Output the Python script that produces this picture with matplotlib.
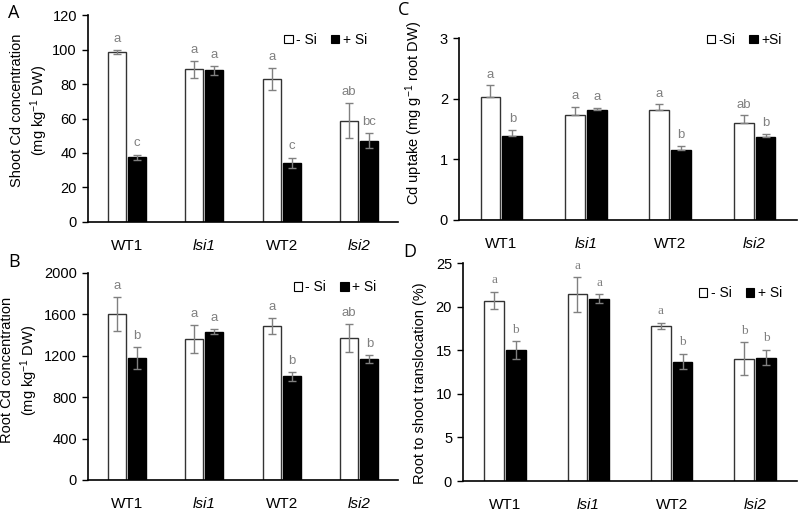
import matplotlib

matplotlib.use("Agg")
import matplotlib.pyplot as plt
import numpy as np
from matplotlib.patches import Patch

plt.rcParams["font.family"] = ["Liberation Sans", "DejaVu Sans"]

genotypes = ["WT1", "lsi1", "WT2", "lsi2"]
italic_labels = [False, True, False, True]

# Panel A: shoot Cd concentration (mg kg-1 DW)
shoot_minus = [98.5, 88.5, 83.0, 58.8]
shoot_minus_err = [1.2, 5.0, 6.3, 10.0]
shoot_plus = [37.6, 88.0, 34.3, 47.2]
shoot_plus_err = [1.5, 2.6, 3.0, 4.5]
shoot_letters_minus = ["a", "a", "a", "ab"]
shoot_letters_plus = ["c", "a", "c", "bc"]

# Panel B: root Cd concentration (mg kg-1 DW)
root_minus = [1603, 1361, 1487, 1370]
root_minus_err = [161, 134, 75, 135]
root_plus = [1177, 1433, 1000, 1168]
root_plus_err = [103, 26, 39, 39]
root_letters_minus = ["a", "a", "a", "ab"]
root_letters_plus = ["b", "a", "b", "b"]

# Panel C: Cd uptake (mg g-1 root DW)
uptake_minus = [2.03, 1.73, 1.82, 1.60]
uptake_minus_err = [0.19, 0.14, 0.09, 0.13]
uptake_plus = [1.39, 1.81, 1.16, 1.36]
uptake_plus_err = [0.10, 0.04, 0.06, 0.06]
uptake_letters_minus = ["a", "a", "a", "ab"]
uptake_letters_plus = ["b", "a", "b", "b"]

# Panel D: root to shoot translocation (%)
transl_minus = [20.7, 21.4, 17.8, 14.0]
transl_minus_err = [1.0, 2.0, 0.35, 1.9]
transl_plus = [15.0, 20.9, 13.7, 14.15]
transl_plus_err = [1.0, 0.5, 0.9, 0.9]
transl_letters_minus = ["a", "a", "a", "b"]
transl_letters_plus = ["b", "a", "b", "b"]

GREY = "#808080"
WIDTH = 0.235
OFFSET = 0.13
SUP = r"$\mathregular{^{-1}}$"


def draw_panel(ax, minus, minus_err, plus, plus_err, let_minus, let_plus,
               ymax, ystep, ylabel, label_xy, legend_labels, legend_xy,
               letter_font=None, up_only=False):
    x = np.arange(len(genotypes))
    xm = x - OFFSET
    xp = x + OFFSET
    ax.bar(xm, minus, WIDTH, color="white", edgecolor="#333333", linewidth=1.0, zorder=2)
    ax.bar(xp, plus, WIDTH, color="black", edgecolor="black", linewidth=1.0, zorder=2)
    for xs, vals, errs in ((xm, minus, minus_err), (xp, plus, plus_err)):
        yerr = [np.zeros(len(errs)), errs] if up_only else errs
        ax.errorbar(xs, vals, yerr=yerr, fmt="none", ecolor=GREY,
                    elinewidth=1.0, capsize=3, capthick=1.0, zorder=3)
    pad = ymax * 0.025
    fkw = {"family": letter_font} if letter_font else {}
    for xs, vals, errs, lets in ((xm, minus, minus_err, let_minus),
                                 (xp, plus, plus_err, let_plus)):
        for xi, v, e, t in zip(xs, vals, errs, lets):
            ax.text(xi, v + e + pad, t, ha="center", va="bottom",
                    fontsize=9.5, color=GREY, **fkw)

    ax.set_xlim(-0.5, len(genotypes) - 0.5)
    ax.set_ylim(0, ymax)
    ax.set_yticks(np.arange(0, ymax + ystep / 2, ystep))
    ax.set_xticks(x)
    ax.set_xticklabels(genotypes)
    for lbl, it in zip(ax.get_xticklabels(), italic_labels):
        lbl.set_style("italic" if it else "normal")
        lbl.set_fontsize(11)
    ax.tick_params(axis="x", length=0, pad=12)
    ax.tick_params(axis="y", length=4, width=1, labelsize=10.5, pad=4)
    for side in ("top", "right"):
        ax.spines[side].set_visible(False)
    for side in ("left", "bottom"):
        ax.spines[side].set_linewidth(1.2)
    ax.set_ylabel(ylabel, fontsize=10.5, linespacing=1.25)
    ax.yaxis.set_label_coords(*label_xy)

    handles = [Patch(facecolor="white", edgecolor="black", linewidth=0.8),
               Patch(facecolor="black", edgecolor="black", linewidth=0.8)]
    ax.legend(handles, legend_labels, loc="center right", ncol=2,
              bbox_to_anchor=legend_xy, frameon=False,
              handlelength=0.6, handleheight=0.6, handletextpad=0.25,
              columnspacing=1.0, fontsize=10, borderaxespad=0,
              borderpad=0)


fig = plt.figure(figsize=(8, 5.11), dpi=100)

ax_a = fig.add_axes([0.110, 0.5656, 0.3875, 0.4050])
ax_c = fig.add_axes([0.574, 0.5695, 0.422, 0.3561])
ax_b = fig.add_axes([0.110, 0.0607, 0.3875, 0.4051])
ax_d = fig.add_axes([0.579, 0.0587, 0.417, 0.4266])

draw_panel(ax_a, shoot_minus, shoot_minus_err, shoot_plus, shoot_plus_err,
           shoot_letters_minus, shoot_letters_plus, 120, 20,
           "Shoot Cd concentration\n(mg kg" + SUP + " DW)", (-0.123, 0.54),
           ["- Si", "+ Si"], (0.9, 0.88))
draw_panel(ax_b, root_minus, root_minus_err, root_plus, root_plus_err,
           root_letters_minus, root_letters_plus, 2000, 400,
           "Root Cd concentration\n(mg kg" + SUP + " DW)", (-0.155, 0.53),
           ["- Si", "+ Si"], (0.93, 0.93))
draw_panel(ax_c, uptake_minus, uptake_minus_err, uptake_plus, uptake_plus_err,
           uptake_letters_minus, uptake_letters_plus, 3, 1,
           "Cd uptake (mg g" + SUP + " root DW)", (-0.10, 0.59),
           ["-Si", "+Si"], (0.955, 0.99), up_only=True)
draw_panel(ax_d, transl_minus, transl_minus_err, transl_plus, transl_plus_err,
           transl_letters_minus, transl_letters_plus, 25, 5,
           "Root to shoot translocation (%)", (-0.11, 0.45),
           ["- Si", "+ Si"], (0.955, 0.862), letter_font="Liberation Serif")

for lbl, (x, y) in zip("ABCD", [(8, 13), (8, 262), (398, 10), (403, 252)]):
    fig.text(x / 800, 1 - y / 511, lbl, fontsize=13, ha="left", va="center",
             family=["Open Sans", "DejaVu Sans"])

fig.savefig("out.png", dpi=100)
